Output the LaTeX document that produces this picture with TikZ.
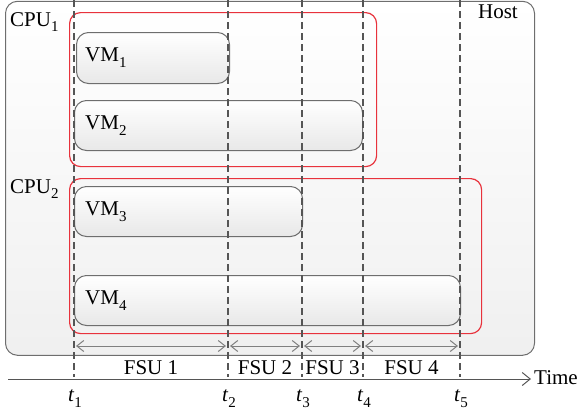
\documentclass[tikz,border=0pt]{standalone}
\usepackage{fontspec}
\setmainfont{Liberation Serif}
\usetikzlibrary{arrows.meta,calc}
\definecolor{boxline}{HTML}{6E6E6E}
\definecolor{cpured}{HTML}{E8323C}
\definecolor{dashgray}{HTML}{555555}
\definecolor{arrgray}{HTML}{808080}
\newcommand{\idx}[1]{\raisebox{-0.28em}{\fontsize{15}{15}\selectfont #1}}
\tikzset{
  x=1pt, y=-1pt,
  every node/.style={font=\fontsize{21}{25}\selectfont, inner sep=0pt},
  hostbox/.style={draw=boxline, line width=1pt, rounded corners=12pt, anchor=north west,
    top color=white, bottom color=black!6},
  cpubox/.style={draw=cpured, line width=1.2pt, rounded corners=11pt, anchor=north west},
  vmbox/.style={draw=boxline, line width=1pt, rounded corners=12pt, anchor=north west,
    top color=white, bottom color=black!9},
  timeline/.style={draw=dashgray, line width=1.1pt, dash pattern=on 7pt off 4pt},
  fsuarrow/.style={draw=arrgray, line width=1pt, {Straight Barb[length=7pt,width=11pt]}-{Straight Barb[length=7pt,width=11pt]}},
  axisline/.style={draw=dashgray, line width=1pt, -{Straight Barb[length=8pt,width=13pt]}},
}
\begin{document}
\begin{tikzpicture}
\useasboundingbox (0,0) rectangle (581,413);

% host machine
\node[hostbox, minimum width=529pt, minimum height=354pt] (host) at (5,0.8) {};
\node[anchor=north east] (hostlbl) at (518,5) {Host};

% CPU groups
\node[cpubox, minimum width=307pt, minimum height=154pt] (cpu1) at (69,12) {};
\node[cpubox, minimum width=412pt, minimum height=155pt] (cpu2) at (69,178) {};
\node[anchor=north west] (cpu1lbl) at (10,12) {CPU\idx{1}};
\node[anchor=north west] (cpu2lbl) at (10,179) {CPU\idx{2}};

% virtual machines
\node[vmbox, minimum width=153pt, minimum height=51pt] (vm1) at (76,32) {};
\node[vmbox, minimum width=288pt, minimum height=50pt] (vm2) at (74,100) {};
\node[vmbox, minimum width=228pt, minimum height=50pt] (vm3) at (74,186) {};
\node[vmbox, minimum width=386pt, minimum height=50pt] (vm4) at (74,275) {};
\node[anchor=west] (vm1lbl) at ([xshift=9pt]vm1.west) {VM\idx{1}};
\node[anchor=west] (vm2lbl) at ([xshift=11pt]vm2.west) {VM\idx{2}};
\node[anchor=west] (vm3lbl) at ([xshift=11pt]vm3.west) {VM\idx{3}};
\node[anchor=west] (vm4lbl) at ([xshift=11pt]vm4.west) {VM\idx{4}};

% time instants
\foreach \n/\x in {1/74, 2/228, 3/302, 4/363, 5/460} {
  \coordinate (top\n) at (\x,0);
  \coordinate (bot\n) at (\x,377);
  \coordinate (fsu\n) at (\x,346);
  \draw[timeline] (top\n) -- (bot\n);
  \node (t\n) at (\x+1,399) {\textit{t}\idx{\n}};
}

% scheduling units
\draw[fsuarrow] ([xshift=2pt]fsu1) -- ([xshift=-2pt]fsu2);
\draw[fsuarrow] ([xshift=2pt]fsu2) -- ([xshift=-2pt]fsu3);
\draw[fsuarrow] ([xshift=2pt]fsu3) -- ([xshift=-2pt]fsu4);
\draw[fsuarrow] ([xshift=2pt]fsu4) -- ([xshift=-2pt]fsu5);
\node (fsu1lbl) at ($(fsu1)!0.5!(fsu2)+(0,22)$) {FSU 1};
\node (fsu2lbl) at ($(fsu2)!0.5!(fsu3)+(0,22)$) {FSU 2};
\node (fsu3lbl) at ($(fsu3)!0.5!(fsu4)+(0,22)$) {FSU 3};
\node (fsu4lbl) at ($(fsu4)!0.5!(fsu5)+(0,22)$) {FSU 4};

% time axis
\coordinate (ax0) at (8,379);
\coordinate (ax1) at (531,379);
\draw[axisline] (ax0) -- (ax1);
\node[anchor=west] (timelbl) at ([xshift=3pt,yshift=1pt]ax1) {Time};
\end{tikzpicture}
\end{document}
